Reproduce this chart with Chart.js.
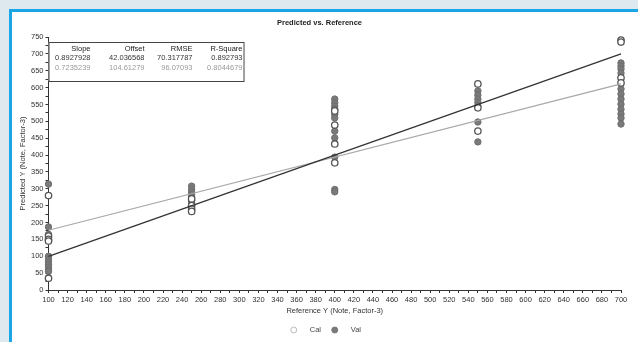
<!DOCTYPE html>
<html>
<head>
<meta charset="utf-8">
<script src="https://cdn.jsdelivr.net/npm/chart.js@4"></script>
<style>
  html, body { margin: 0; padding: 0; }
  body { width: 638px; height: 342px; background: #dde8ef; position: relative; overflow: hidden; }
  #panel { position: absolute; left: 9px; top: 9px; width: 626px; height: 330px; background: #fff; border: 3px solid #1aa6e6; border-right: none; border-bottom: none; }
  #wrap { position: absolute; left: 0; top: 0; width: 638px; height: 342px; }
</style>
</head>
<body>
<div id="panel"></div>
<div id="wrap"><canvas id="myChart" width="638" height="342"></canvas></div>
<script>
// reference levels and predicted values
let calX = [100, 100, 100, 100, 100, 250, 250, 250, 250, 400, 400, 400, 400, 550, 550, 550, 700, 700, 700, 700];
let calY = [280, 160, 150, 145, 35, 270, 250, 240, 233, 531, 489, 433, 377, 611, 540, 471, 741, 735, 629, 614];

let valX = [100, 100, 100, 100, 100, 100, 100, 100, 100, 100,
  250, 250, 250, 250, 250, 250, 250,
  400, 400, 400, 400, 400, 400, 400, 400, 400, 400, 400,
  550, 550, 550, 550, 550, 550, 550,
  700, 700, 700, 700, 700, 700, 700, 700, 700, 700, 700, 700];
let valY = [314, 187, 165, 100, 92, 84, 76, 68, 60, 55,
  308, 298, 290, 282, 275, 265, 258,
  566, 555, 545, 536, 520, 510, 471, 451, 394, 298, 291,
  590, 578, 566, 556, 546, 498, 439,
  673, 664, 655, 643, 596, 581, 566, 551, 536, 522, 510, 492];

let fitX = [100, 700];
let calFitY = [100, 700];
let valFitY = [177, 611];

let statHeaders = ['Slope', 'Offset', 'RMSE', 'R-Square'];
let calStats = ['0.8927928', '42.036568', '70.317787', '0.892793'];
let valStats = ['0.7235239', '104.61279', '96.07093', '0.8044679'];

const font = 'Liberation Sans, Arial, sans-serif';
const pts = (xs, ys) => xs.map((x, i) => ({ x: x, y: ys[i] }));

// stats table in the top left of the plot
const statsBox = {
  id: 'statsBox',
  afterDraw(chart) {
    const c = chart.ctx;
    const a = chart.chartArea;
    const left = a.left, top = a.top + 5, w = 195, h = 39;
    c.save();
    c.fillStyle = '#fff';
    c.fillRect(left, top, w, h);
    c.strokeStyle = '#444';
    c.lineWidth = 1;
    c.strokeRect(left + 0.5, top + 0.5, w, h);
    const cols = [42, 96, 144, 194];
    c.textAlign = 'right';
    c.textBaseline = 'middle';
    c.font = '7.5px ' + font;
    statHeaders.forEach((t, i) => { c.fillStyle = '#222'; c.fillText(t, left + cols[i], top + 7); });
    calStats.forEach((t, i) => { c.fillStyle = '#333'; c.fillText(t, left + cols[i], top + 16); });
    valStats.forEach((t, i) => { c.fillStyle = '#9a9a9a'; c.fillText(t, left + cols[i], top + 26); });
    c.restore();
  }
};

// legend under the axis title: open circle for Cal, filled for Val
const pointLegend = {
  id: 'pointLegend',
  afterDraw(chart) {
    const c = chart.ctx;
    const a = chart.chartArea;
    const y = a.bottom + 40;
    const cx = (a.left + a.right) / 2;
    const items = [
      { ds: chart.data.datasets[0], x: cx - 41, stroke: '#bbb', fill: '#fff' },
      { ds: chart.data.datasets[1], x: cx, stroke: '#7a7a7a', fill: '#7a7a7a' }
    ];
    c.save();
    c.font = '7.5px ' + font;
    c.textBaseline = 'middle';
    c.textAlign = 'left';
    items.forEach((it) => {
      c.beginPath();
      c.arc(it.x, y, 3, 0, Math.PI * 2);
      c.fillStyle = it.fill;
      c.fill();
      c.strokeStyle = it.stroke;
      c.lineWidth = 1;
      c.stroke();
      c.fillStyle = '#444';
      c.fillText(it.ds.label, it.x + 16, y);
    });
    c.restore();
  }
};

let ctx = document.getElementById('myChart').getContext('2d');
let myChart = new Chart(ctx, {
  type: 'scatter',
  data: {
    datasets: [{
      label: 'Cal',
      data: pts(calX, calY),
      backgroundColor: '#fff',
      borderColor: '#555',
      borderWidth: 1.3,
      pointRadius: 3.2,
      order: 2
    }, {
      label: 'Val',
      data: pts(valX, valY),
      backgroundColor: '#7a7a7a',
      borderColor: '#6e6e6e',
      borderWidth: 1,
      pointRadius: 3.2,
      order: 3
    }, {
      type: 'line',
      label: 'calFit',
      data: pts(fitX, calFitY),
      borderColor: '#333',
      borderWidth: 1.3,
      pointRadius: 0,
      order: 0
    }, {
      type: 'line',
      label: 'valFit',
      data: pts(fitX, valFitY),
      borderColor: '#a8a8a8',
      borderWidth: 1.2,
      pointRadius: 0,
      order: 1
    }]
  },
  options: {
    responsive: false,
    animation: false,
    clip: false,
    layout: { padding: { left: 18, right: 17, top: 18, bottom: 23 } },
    plugins: {
      title: {
        display: true,
        text: 'Predicted vs. Reference',
        color: '#222',
        font: { family: font, size: 7.5, weight: 'bold' },
        padding: { top: 0, bottom: 10 }
      },
      legend: { display: false },
      tooltip: { enabled: false }
    },
    scales: {
      x: {
        type: 'linear',
        min: 100,
        max: 700,
        title: { display: true, text: 'Reference Y (Note, Factor-3)', color: '#333', font: { family: font, size: 7.5 }, padding: { top: 0, bottom: 4 } },
        ticks: {
          stepSize: 10,
          autoSkip: false,
          maxRotation: 0,
          color: '#333',
          padding: 2,
          font: { family: font, size: 7.5 },
          callback: (v) => v % 20 === 0 ? v : ''
        },
        grid: { drawOnChartArea: false, drawTicks: true, tickLength: 3, color: '#333' },
        border: { display: true, color: '#333' }
      },
      y: {
        min: 0,
        max: 750,
        title: { display: true, text: 'Predicted Y (Note, Factor-3)', color: '#333', font: { family: font, size: 7.5 }, padding: { top: 0, bottom: 2 } },
        ticks: {
          stepSize: 25,
          autoSkip: false,
          color: '#333',
          padding: 2,
          font: { family: font, size: 7.5 },
          callback: (v) => v % 50 === 0 ? v : ''
        },
        grid: { drawOnChartArea: false, drawTicks: true, tickLength: 3, color: '#333' },
        border: { display: true, color: '#333' }
      }
    }
  },
  plugins: [statsBox, pointLegend]
});
</script>
</body>
</html>
